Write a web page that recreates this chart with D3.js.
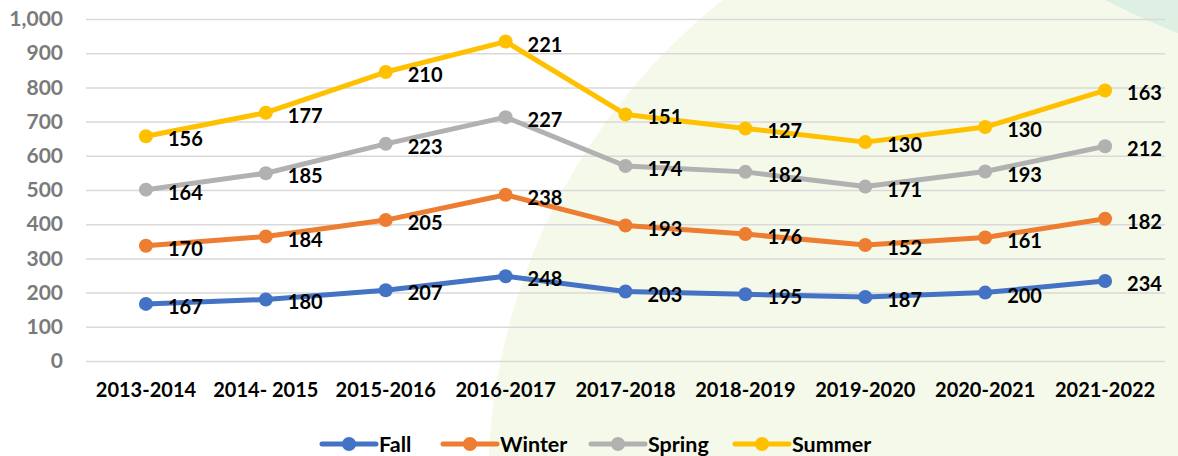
<!DOCTYPE html>
<html>
<head>
<meta charset="utf-8">
<script src="https://cdn.jsdelivr.net/npm/d3@7"></script>
<style>
  body { margin: 0; background: #fff; }
  svg { display: block; font-family: Lato, "Open Sans", sans-serif; }
</style>
</head>
<body>
<svg id="chart" width="1178" height="456"></svg>
<script>
const years = ['2013-2014', '2014- 2015', '2015-2016', '2016-2017', '2017-2018',
               '2018-2019', '2019-2020', '2020-2021', '2021-2022'];
const fall   = [167, 180, 207, 248, 203, 195, 187, 200, 234];
const winter = [170, 184, 205, 238, 193, 176, 152, 161, 182];
const spring = [164, 185, 223, 227, 174, 182, 171, 193, 212];
const summer = [156, 177, 210, 221, 151, 127, 130, 130, 163];
const seasons = ['Fall', 'Winter', 'Spring', 'Summer'];
const colors = ['#4472c4', '#ed7d31', '#b1b1b1', '#ffc000'];
const yTicks = [0, 100, 200, 300, 400, 500, 600, 700, 800, 900, 1000];

const svg = d3.select('#chart');
const width = +svg.attr('width');
const height = +svg.attr('height');

// background decoration
svg.append('circle')
    .attr('cx', 1106).attr('cy', 485).attr('r', 618)
    .attr('fill', '#f5f9ea');
svg.append('path')
    .attr('d', 'M1105,0 Q1140,18 1178,33 L1178,0 Z')
    .attr('fill', '#deefe3');

const margin = { top: 19, bottom: 95, right: 13, left: 86 };
const innerWidth = width - margin.left - margin.right;
const innerHeight = height - margin.top - margin.bottom;

const table = years.map((y, i) => ({
    year: y, Fall: fall[i], Winter: winter[i], Spring: spring[i], Summer: summer[i]
}));
const series = d3.stack().keys(seasons)(table);

const xScale = d3.scaleBand()
    .domain(years)
    .range([0, innerWidth]);

const yScale = d3.scaleLinear()
    .domain([0, 1000])
    .range([innerHeight, 0]);

const g = svg.append('g')
    .attr('transform', `translate(${margin.left}, ${margin.top})`);

const yAxis = d3.axisLeft(yScale)
    .tickValues(yTicks)
    .tickSize(-innerWidth)
    .tickPadding(23)
    .tickFormat(d3.format(','));

const yAxisG = g.append('g').call(yAxis);
yAxisG.select('.domain').remove();
yAxisG.selectAll('.tick line')
    .attr('stroke', '#d9d9d9')
    .attr('stroke-width', 1.5);
yAxisG.selectAll('.tick text')
    .attr('fill', '#7a7a7a')
    .style('font-size', '21px')
    .style('font-weight', 'bold')
    .style('font-family', 'Lato, sans-serif');

const xAxis = d3.axisBottom(xScale)
    .tickSize(0)
    .tickPadding(22);

const xAxisG = g.append('g')
    .attr('transform', `translate(0, ${innerHeight})`)
    .call(xAxis);
xAxisG.select('.domain').remove();
xAxisG.selectAll('.tick text')
    .attr('fill', '#000')
    .style('font-size', '20px')
    .style('font-weight', 'bold')
    .style('font-family', 'Lato, sans-serif');

const xPos = d => xScale(d.data.year) + xScale.bandwidth() / 2;

const line = d3.line()
    .x(xPos)
    .y(d => yScale(d[1]));

series.forEach((s, si) => {
    g.append('path')
        .datum(s)
        .attr('fill', 'none')
        .attr('stroke', colors[si])
        .attr('stroke-width', 5)
        .attr('stroke-linejoin', 'round')
        .attr('d', line);

    g.selectAll('.pt' + si).data(s)
        .enter().append('circle')
        .attr('cx', xPos)
        .attr('cy', d => yScale(d[1]))
        .attr('r', 7)
        .attr('fill', colors[si]);

    g.selectAll('.lb' + si).data(s)
        .enter().append('text')
        .attr('x', d => xPos(d) + 22)
        .attr('y', d => yScale(d[1]) + 2)
        .attr('dominant-baseline', 'central')
        .attr('fill', '#000')
        .style('font-size', '20px')
        .style('font-weight', 'bold')
        .text(d => d.data[seasons[si]]);
});

// legend
const legendX = [322, 443, 591, 735];
const legend = svg.append('g')
    .attr('transform', 'translate(0, 444)');
seasons.forEach((name, i) => {
    const lg = legend.append('g')
        .attr('transform', `translate(${legendX[i]}, 0)`);
    lg.append('line')
        .attr('x1', 0).attr('x2', 54)
        .attr('y1', 0).attr('y2', 0)
        .attr('stroke', colors[i])
        .attr('stroke-width', 5)
        .attr('stroke-linecap', 'round');
    lg.append('circle')
        .attr('cx', 27).attr('cy', 0).attr('r', 7)
        .attr('fill', colors[i]);
    lg.append('text')
        .attr('x', 57)
        .attr('y', 0)
        .attr('dominant-baseline', 'central')
        .style('font-size', '21.5px')
        .style('font-weight', 'bold')
        .attr('fill', '#000')
        .text(name);
});
</script>
</body>
</html>
